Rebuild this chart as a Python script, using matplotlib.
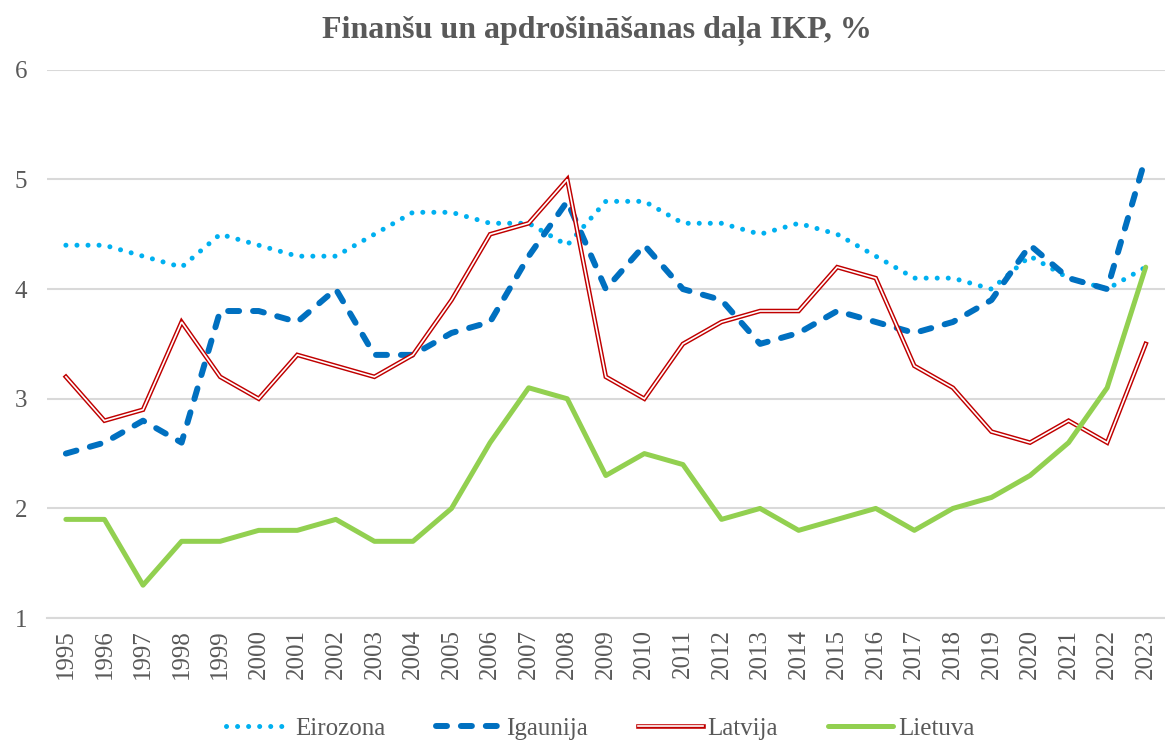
import matplotlib
matplotlib.use("Agg")
import matplotlib.pyplot as plt
from matplotlib.legend_handler import HandlerTuple

years = list(range(1995, 2024))

eirozona = [4.4, 4.4, 4.3, 4.2, 4.5, 4.4, 4.3, 4.3, 4.5, 4.7,
            4.7, 4.6, 4.6, 4.4, 4.8, 4.8, 4.6, 4.6, 4.5, 4.6,
            4.5, 4.3, 4.1, 4.1, 4.0, 4.3, 4.1, 4.0, 4.2]
igaunija = [2.5, 2.6, 2.8, 2.6, 3.8, 3.8, 3.7, 4.0, 3.4, 3.4,
            3.6, 3.7, 4.3, 4.8, 4.0, 4.4, 4.0, 3.9, 3.5, 3.6,
            3.8, 3.7, 3.6, 3.7, 3.9, 4.4, 4.1, 4.0, 5.2]
latvija = [3.2, 2.8, 2.9, 3.7, 3.2, 3.0, 3.4, 3.3, 3.2, 3.4,
           3.9, 4.5, 4.6, 5.0, 3.2, 3.0, 3.5, 3.7, 3.8, 3.8,
           4.2, 4.1, 3.3, 3.1, 2.7, 2.6, 2.8, 2.6, 3.5]
lietuva = [1.9, 1.9, 1.3, 1.7, 1.7, 1.8, 1.8, 1.9, 1.7, 1.7,
           2.0, 2.6, 3.1, 3.0, 2.3, 2.5, 2.4, 1.9, 2.0, 1.8,
           1.9, 2.0, 1.8, 2.0, 2.1, 2.3, 2.6, 3.1, 4.2]

title = "Finanšu un apdrošināšanas daļa IKP, %"
labels = ["Eirozona", "Igaunija", "Latvija", "Lietuva"]
txt = "#595959"
grid_c = "#D9D9D9"

plt.rcParams["font.family"] = ["Liberation Serif", "DejaVu Serif"]

fig = plt.figure(figsize=(11.65, 7.42), dpi=100)
ax = fig.add_axes([0.040, 0.167, 0.960, 0.739])

ln_eiro, = ax.plot(years, eirozona, color="#00B0F0", lw=3.6,
                   linestyle=(0, (0.01, 2.2)), dash_capstyle="round")
ln_ig, = ax.plot(years, igaunija, color="#0070C0", lw=4.3,
                 linestyle=(0, (1.84, 2.33)), dash_capstyle="round",
                 solid_joinstyle="round")
ln_lv, = ax.plot(years, latvija, color="#C00000", lw=3.3, solid_joinstyle="miter")
ln_lv2, = ax.plot(years, latvija, color="white", lw=1.2, solid_joinstyle="miter")
ln_lt, = ax.plot(years, lietuva, color="#92D050", lw=3.6, solid_joinstyle="round",
                 solid_capstyle="round")

ax.set_xlim(1994.5, 2023.5)
ax.set_ylim(1, 6)
ax.set_yticks(range(1, 7))
ax.set_xticks(years)
ax.set_xticklabels([str(y) for y in years], rotation=90)
ax.tick_params(axis="both", length=0, labelsize=18, colors=txt)
ax.tick_params(axis="y", pad=14)
ax.tick_params(axis="x", pad=8)

ax.grid(axis="y", color=grid_c, lw=1.5)
ax.set_axisbelow(True)
for s in ["top", "right", "left"]:
    ax.spines[s].set_visible(False)
ax.spines["bottom"].set_color(grid_c)
ax.spines["bottom"].set_linewidth(1.5)

fig.text(0.512, 0.958, title, ha="center", va="center", fontsize=23,
         fontweight="bold", color=txt)

handles = [ln_eiro, ln_ig, (ln_lv, ln_lv2), ln_lt]
leg = fig.legend(handles, labels, loc="center", bbox_to_anchor=(0.515, 0.018),
                 ncol=4, frameon=False, fontsize=18, handlelength=2.6,
                 handletextpad=0.2, columnspacing=2.0,
                 handler_map={tuple: HandlerTuple(ndivide=1)})
for t in leg.get_texts():
    t.set_color(txt)

fig.savefig("out.png", dpi=100)
